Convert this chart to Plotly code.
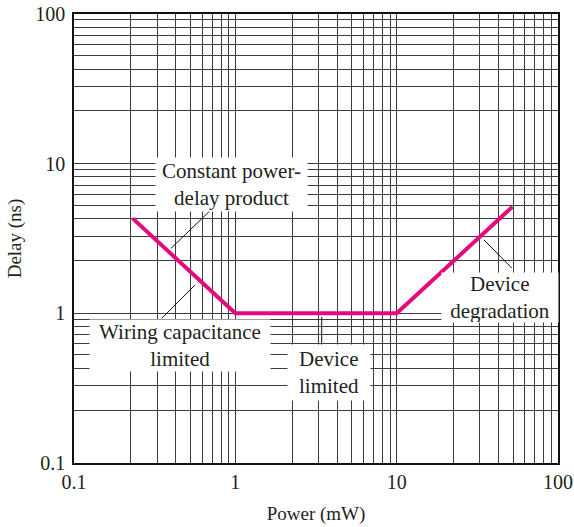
import plotly.graph_objects as go

# ---- data ----
curve_power = [0.231, 1.0, 10.0, 52.2]      # mW
curve_delay = [4.31, 1.0, 1.0, 5.15]        # ns

# leader lines (data coordinates)
lead_const_x = [0.697, 0.3995]
lead_const_y = [4.85, 2.718]
lead_wiring_x = [0.5627, 0.3499]
lead_wiring_y = [1.546, 0.926]
lead_devlim_x = [3.43, 3.43]
lead_devlim_y = [0.945, 0.614]
lead_degr_x = [34.8, 51.7]
lead_degr_y = [3.09, 2.007]

# tick labels
major_vals = [0.1, 1, 10, 100]
major_text = ["0.1", "1", "10", "100"]
# grid lines within each decade, as drawn in the reference
grid_within_decade = [2.25, 3.27, 4.28, 5.27, 6.24, 7.19, 8.17, 9.12]
decades = [0.1, 1, 10]

labels = ["Constant power-<br>delay product",
          "Wiring capacitance<br>limited",
          "Device<br>limited",
          "Device<br>degradation"]

minor_vals = [round(d * g, 6) for d in decades for g in grid_within_decade]

FONT = "Liberation Serif, Times New Roman, serif"
TXT = "#231f20"
GRID = "#3c3c3c"
PINK = "#e5097f"

fig = go.Figure()

for lx, ly in [(lead_const_x, lead_const_y), (lead_wiring_x, lead_wiring_y),
               (lead_devlim_x, lead_devlim_y), (lead_degr_x, lead_degr_y)]:
    fig.add_trace(go.Scatter(x=lx, y=ly, mode="lines",
                             line=dict(color="#111", width=1),
                             hoverinfo="skip", showlegend=False))

fig.add_trace(go.Scatter(x=curve_power, y=curve_delay, mode="lines",
                         line=dict(color=PINK, width=4),
                         showlegend=False))

axis_common = dict(
    type="log", range=[-1, 2], automargin=False,
    tickmode="array", tickvals=major_vals, ticktext=major_text,
    showgrid=True, gridcolor=GRID, gridwidth=1.2,
    showline=True, linecolor="#111", linewidth=1.5, mirror=True,
    ticks="", ticklabeloverflow="allow",
    tickfont=dict(family=FONT, size=20, color=TXT),
    zeroline=False,
    minor=dict(tickmode="array", tickvals=minor_vals, showgrid=True,
               gridcolor=GRID, gridwidth=1.2, ticks=""),
)

fig.update_layout(
    width=574, height=527,
    margin=dict(l=74, r=16, t=14, b=64),
    paper_bgcolor="white", plot_bgcolor="white",
    font=dict(family=FONT, size=20, color=TXT),
    xaxis=dict(axis_common, title=dict(text="Power (mW)", standoff=15,
                                       font=dict(family=FONT, size=19, color=TXT))),
    yaxis=dict(axis_common, ticklabelstandoff=3,
               title=dict(text="Delay (ns)", standoff=9,
                          font=dict(family=FONT, size=19, color=TXT))),
)

# annotation boxes (paper coords: centre, pixel size)
boxes = [
    (0.3254, 0.6203, 151, 53),
    (0.2190, 0.2617, 180, 51),
    (0.5269, 0.2016, 82, 55),
    (0.8796, 0.3686, 116, 49),
]
for text, (bx, by, bw, bh) in zip(labels, boxes):
    fig.add_annotation(x=bx, y=by, xref="paper", yref="paper",
                       text=text, showarrow=False,
                       xanchor="center", yanchor="middle",
                       width=bw, height=bh, bgcolor="white", borderpad=0,
                       font=dict(family=FONT, size=21, color=TXT))

fig.write_html("out.html", config={"displayModeBar": False},
               post_script="document.body.style.margin='0px';")
